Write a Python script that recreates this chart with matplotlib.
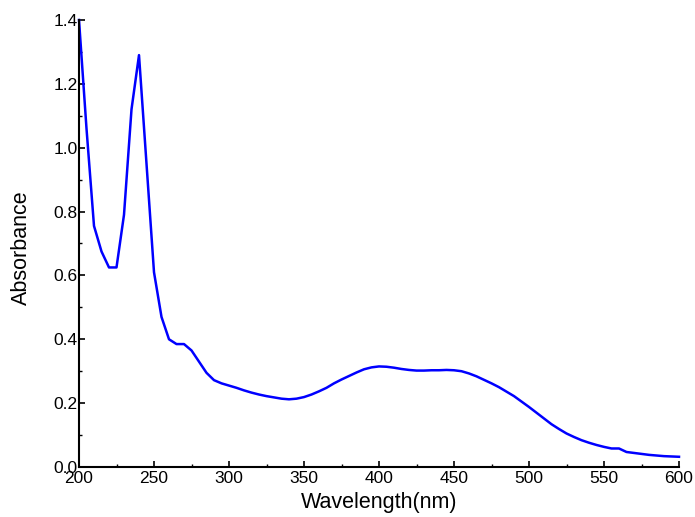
import matplotlib.pyplot as plt
from matplotlib.ticker import MultipleLocator

plt.rcParams['font.family'] = ['Liberation Sans', 'DejaVu Sans']

# Wavelength (nm) sampled every 5 nm
wavelength = list(range(200, 601, 5))
absorbance = [
    1.40, 1.06, 0.755, 0.675, 0.625, 0.625, 0.79, 1.12, 1.29, 0.95,
    0.61, 0.47, 0.40, 0.385, 0.385, 0.365, 0.33, 0.295, 0.272, 0.262,
    0.255, 0.248, 0.240, 0.233, 0.227, 0.222, 0.218, 0.214, 0.212, 0.214,
    0.219, 0.227, 0.237, 0.248, 0.262, 0.274, 0.285, 0.296, 0.306, 0.312,
    0.315, 0.314, 0.311, 0.307, 0.304, 0.302, 0.302, 0.303, 0.303, 0.304,
    0.303, 0.300, 0.293, 0.284, 0.273, 0.262, 0.250, 0.236, 0.222, 0.205,
    0.188, 0.170, 0.152, 0.134, 0.119, 0.105, 0.094, 0.084, 0.076, 0.069,
    0.063, 0.058, 0.058, 0.047, 0.044, 0.041, 0.038, 0.036, 0.034, 0.033,
    0.032,
]

fig = plt.figure(figsize=(6.95, 5.17), dpi=100)
ax = fig.add_axes([79 / 695, 50 / 517, 600 / 695, 447 / 517])
ax.plot(wavelength, absorbance, color='#0000ff', lw=1.8, clip_on=False)

ax.set_xlim(200, 600)
ax.set_ylim(0, 1.4)
ax.xaxis.set_major_locator(MultipleLocator(50))
ax.xaxis.set_minor_locator(MultipleLocator(25))
ax.yaxis.set_major_locator(MultipleLocator(0.2))
ax.yaxis.set_minor_locator(MultipleLocator(0.1))
ax.yaxis.set_major_formatter(plt.FuncFormatter(lambda v, p: f'{v:.1f}'))

for s in ['top', 'right']:
    ax.spines[s].set_visible(False)
for s in ['left', 'bottom']:
    ax.spines[s].set_linewidth(1.5)

ax.tick_params(which='major', direction='in', length=4, width=1.2, labelsize=12.5)
ax.tick_params(which='minor', direction='in', length=2.5, width=1.0)
ax.tick_params(axis='x', which='major', pad=3)
ax.tick_params(axis='y', which='major', pad=1)

ax.set_xlabel('Wavelength(nm)', fontsize=15.5)
ax.set_ylabel('Absorbance', fontsize=15.5)
ax.xaxis.set_label_coords(0.5, -0.056)
ax.yaxis.set_label_coords(-0.079, 0.49)

fig.savefig('out.png', dpi=100)
